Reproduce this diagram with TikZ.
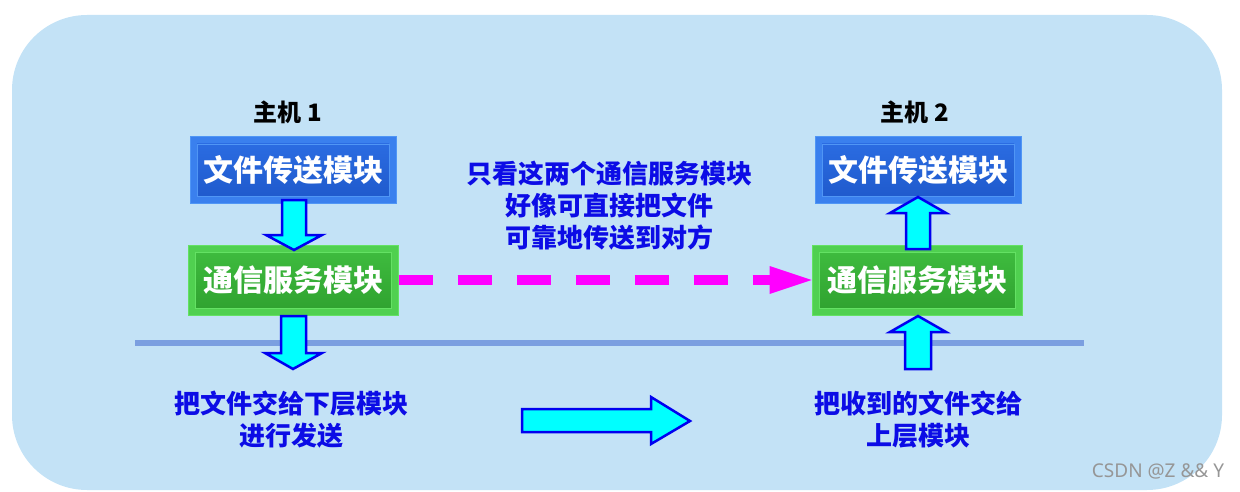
\documentclass[tikz,border=0pt]{standalone}
\usepackage{fontspec}
\setmainfont{Noto Sans CJK SC}[BoldFont={Noto Sans CJK SC Black}]
\newfontfamily\wmfont{Noto Sans}
\usetikzlibrary{calc}
\definecolor{bgc}{RGB}{195,226,246}
\definecolor{linec}{RGB}{123,159,224}
\definecolor{txtblue}{RGB}{12,12,230}
\definecolor{bouter}{RGB}{58,128,238}
\definecolor{bborder}{RGB}{80,150,245}
\definecolor{btop}{RGB}{44,110,228}
\definecolor{bbot}{RGB}{30,88,202}
\definecolor{gouter}{RGB}{80,208,80}
\definecolor{gborder}{RGB}{100,225,100}
\definecolor{gtop}{RGB}{64,190,64}
\definecolor{gbot}{RGB}{46,160,46}
\definecolor{arrblue}{RGB}{0,0,240}
\definecolor{arrcyan}{RGB}{0,255,255}
\definecolor{mag}{RGB}{255,0,255}
\tikzset{
  modbox/.style={draw=#1border, line width=1pt, fill=#1outer, text=white,
    font=\fontsize{30}{36}\selectfont\bfseries, inner sep=0pt,
    path picture={
      \shade[top color=#1top, bottom color=#1bot, draw=#1border, line width=0.8pt]
        ($(path picture bounding box.south west)+(7pt,7pt)$) rectangle
        ($(path picture bounding box.north east)-(7pt,7pt)$);
    }},
  hostlabel/.style={font=\fontsize{24}{28}\selectfont\bfseries, text=black},
  bluetext/.style={font=\fontsize{26}{32}\selectfont\bfseries, text=txtblue, align=center},
  barrow/.style={draw=arrblue, fill=arrcyan, line width=2.5pt, line join=miter},
}
\begin{document}
\begin{tikzpicture}[x=1pt,y=-1pt]
\useasboundingbox (0,0) rectangle (1240,492);
\fill[bgc, rounded corners=75pt] (12,15) rectangle (1222,490);

% host labels
\node[hostlabel] (h1) at (288,112) {主机 1};
\node[hostlabel] (h2) at (915,112) {主机 2};

% modules
\node[modbox=b, minimum width=206pt, minimum height=66pt] (b1) at (293,170) {文件传送模块};
\node[modbox=g, minimum width=210pt, minimum height=70pt] (g1) at (293,280) {通信服务模块};
\node[modbox=b, minimum width=206pt, minimum height=66pt] (b2) at (918,170) {文件传送模块};
\node[modbox=g, minimum width=210pt, minimum height=70pt] (g2) at (917,280) {通信服务模块};

% separator line
\coordinate (la) at (135,343);
\coordinate (lb) at (1084,343);
\draw[linec, line width=6pt] (la) -- (lb);

% block arrows
\draw[barrow] (282,200) -- (306,200) -- (306,235) -- (322,235) -- (294,250) -- (266,235) -- (282,235) -- cycle;
\draw[barrow] (281,316) -- (306,316) -- (306,353) -- (322,353) -- (293,369) -- (265,353) -- (281,353) -- cycle;
\draw[barrow] (906,249) -- (930,249) -- (930,213) -- (946,213) -- (918,197) -- (890,213) -- (906,213) -- cycle;
\draw[barrow] (905,369) -- (931,369) -- (931,332) -- (946,332) -- (918,316) -- (890,332) -- (905,332) -- cycle;
\draw[barrow] (522,409) -- (651,409) -- (651,397) -- (690,421) -- (651,444) -- (651,432) -- (522,432) -- cycle;

% dashed magenta connector
\coordinate (mt) at ($(g2.west)+(-42,0)$);
\draw[mag, line width=10pt, dash pattern=on 34pt off 25pt] (g1.east) -- ($(mt)+(2,0)$);
\fill[mag] ($(mt)+(0,-14)$) -- (g2.west) -- ($(mt)+(0,14)$) -- cycle;

% texts
\node[bluetext] (t1) at (609,206) {只看这两个通信服务模块\\好像可直接把文件\\可靠地传送到对方};
\node[bluetext] (t2) at (291,420) {把文件交给下层模块\\进行发送};
\node[bluetext] (t3) at (918,420) {把收到的文件交给\\上层模块};

% watermark
\node[font=\wmfont\fontsize{19}{22}\selectfont, text={rgb,255:red,150;green,150;blue,150}] (wm) at (1158,471) {CSDN @Z \&\& Y};
\end{tikzpicture}
\end{document}
